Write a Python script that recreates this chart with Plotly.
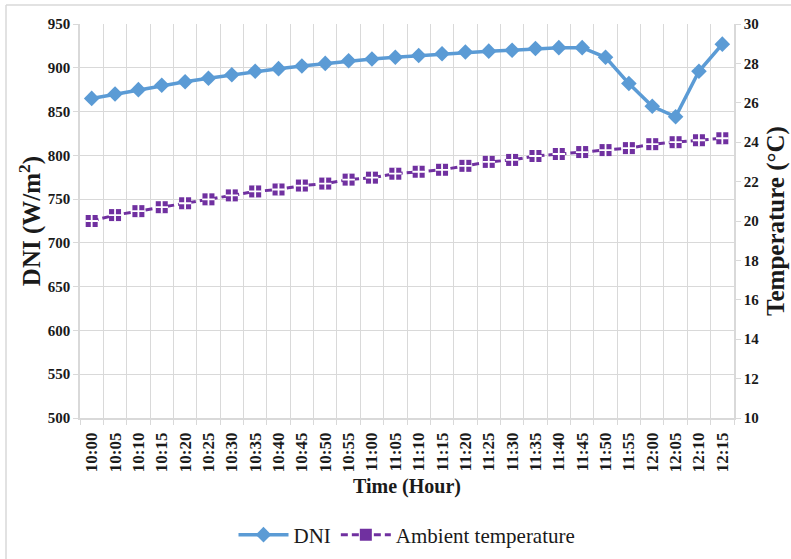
import plotly.graph_objects as go

times = ["10:00", "10:05", "10:10", "10:15", "10:20", "10:25", "10:30", "10:35", "10:40", "10:45",
         "10:50", "10:55", "11:00", "11:05", "11:10", "11:15", "11:20", "11:25", "11:30", "11:35",
         "11:40", "11:45", "11:50", "11:55", "12:00", "12:05", "12:10", "12:15"]
dni = [865, 870, 875, 880, 884, 888, 892, 896, 899, 902,
       905, 908, 910, 912, 914, 916, 918, 919, 920, 922,
       923, 923, 912, 882, 856, 844, 896, 927]
temp = [20.0, 20.3, 20.5, 20.7, 20.9, 21.1, 21.3, 21.5, 21.6, 21.8,
        21.9, 22.1, 22.2, 22.4, 22.5, 22.6, 22.8, 23.0, 23.1, 23.3,
        23.4, 23.5, 23.6, 23.7, 23.9, 24.0, 24.1, 24.2]

FONT = "Liberation Serif, Times New Roman, serif"
TXT = "#1a1a1a"
GRID = "#D9D9D9"

fig = go.Figure()
fig.add_trace(go.Scatter(
    x=times, y=dni, name="DNI", mode="lines+markers",
    line=dict(color="#5B9BD5", width=3.5),
    marker=dict(symbol="diamond", size=12, color="#5B9BD5"),
))
fig.add_trace(go.Scatter(
    x=times, y=temp, name="Ambient temperature", yaxis="y2", mode="lines+markers",
    line=dict(color="#7030A0", width=3, dash="7px,4px"),
    marker=dict(symbol="square", size=12, color="#7030A0"),
))
fig.add_trace(go.Scatter(
    x=times, y=temp, yaxis="y2", mode="markers", showlegend=False, hoverinfo="skip",
    marker=dict(symbol="cross-thin", size=9, color="white", line=dict(color="white", width=1.8)),
))

tickfont = dict(family=FONT, size=15, color=TXT, weight="bold")
xtickfont = dict(family=FONT, size=17, color=TXT, weight="bold")
vtitlefont = dict(family=FONT, size=25, color=TXT, weight="bold")
htitlefont = dict(family=FONT, size=20, color=TXT, weight="bold")

fig.update_layout(
    width=791, height=559,
    margin=dict(l=80, r=57, t=24, b=141, autoexpand=False),
    font=dict(family=FONT, color=TXT),
    paper_bgcolor="white", plot_bgcolor="white",
    showlegend=True,
    legend=dict(orientation="h", x=0.5, xanchor="center", y=(418 - 535) / 394, yanchor="middle",
                font=dict(family=FONT, size=21, color=TXT), itemwidth=50),
    xaxis=dict(
        type="category", range=[-0.5, 27.5], tickson="boundaries", automargin=False,
        showgrid=True, gridcolor=GRID, gridwidth=1,
        ticks="outside", ticklen=5, tickcolor=GRID,
        showline=True, linecolor=GRID, linewidth=1.5,
        tickangle=-90, tickfont=xtickfont, ticklabelstandoff=6,
        title=dict(text="Time (Hour)", font=htitlefont, standoff=8),
    ),
    yaxis=dict(
        range=[500, 950], dtick=50, showgrid=True, gridcolor=GRID, gridwidth=1, automargin=False,
        ticks="outside", ticklen=5, tickcolor=GRID,
        showline=True, linecolor=GRID, linewidth=1.5, zeroline=False,
        tickfont=tickfont,
        title=dict(text="DNI (W/m<sup>2</sup>)", font=vtitlefont, standoff=0),
    ),
    yaxis2=dict(
        overlaying="y", side="right", range=[10, 30], dtick=2, showgrid=False, automargin=False,
        ticks="outside", ticklen=5, tickcolor=GRID,
        showline=True, linecolor=GRID, linewidth=1.5, zeroline=False,
        tickfont=tickfont,
        title=dict(text="Temperature (°C)", font=vtitlefont, standoff=8),
    ),
    shapes=[
        dict(type="line", xref="paper", yref="paper",
             x0=(6 - 80) / 654, x1=(791 - 80) / 654, y0=(418 - 5) / 394, y1=(418 - 5) / 394,
             line=dict(color=GRID, width=1.5), layer="below"),
        dict(type="line", xref="paper", yref="paper",
             x0=(6 - 80) / 654, x1=(6 - 80) / 654, y0=(418 - 5) / 394, y1=(418 - 559) / 394,
             line=dict(color=GRID, width=1.5), layer="below"),
    ],
)

fig.write_html("out.html")
